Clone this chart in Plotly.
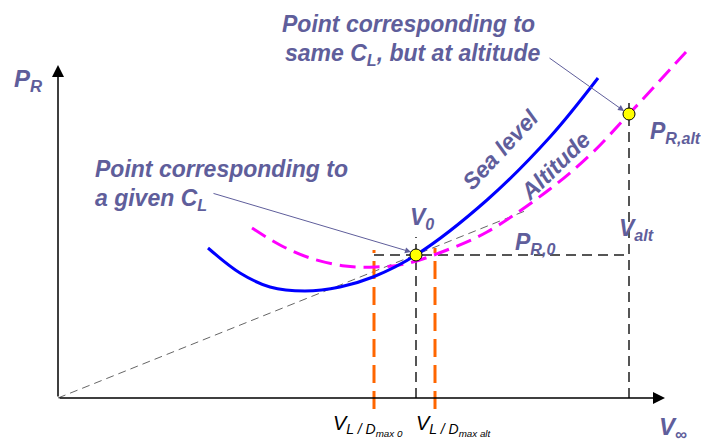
import plotly.graph_objects as go

# Power required curves (schematic), V in arbitrary units, P in arbitrary units
v_sea = [15.0, 18.2, 21.2, 24.7, 28.2, 31.5, 35.8, 42.9, 49.2, 54.0]
p_sea = [15.0, 12.5, 11.1, 10.7, 11.1, 12.1, 14.3, 19.8, 26.1, 32.0]

v_alt = [19.4, 22.2, 25.2, 28.7, 31.7, 34.7, 38.9, 42.9, 49.2, 53.2, 57.1, 62.8]
p_alt = [17.0, 15.3, 14.0, 13.2, 13.1, 13.4, 14.8, 16.6, 20.9, 24.3, 28.4, 34.6]

# marked points: given C_L at sea level, same C_L at altitude
v_pts = [35.8, 57.1]
p_pts = [14.3, 28.4]

# tangent from origin
v_tan = [0, 46.7]
p_tan = [0, 18.7]

# velocities for max L/D
v_ld0 = 31.6
v_ldalt = 37.7

v_axis_end = 60.7
p_axis_end = 33.3

TXT = "#5F5E9B"
FONT = "Liberation Sans, Arial, sans-serif"

fig = go.Figure()

# tangent line
fig.add_trace(go.Scatter(x=v_tan, y=p_tan, mode="lines",
                         line=dict(color="#666666", width=1, dash="8px,5px")))
# horizontal P_R,0 guide
fig.add_trace(go.Scatter(x=[v_ld0, v_pts[1]], y=[p_pts[0], p_pts[0]], mode="lines",
                         line=dict(color="#555555", width=2, dash="10px,6px")))
# vertical guides
fig.add_trace(go.Scatter(x=[v_pts[0], v_pts[0]], y=[0, 16.1], mode="lines",
                         line=dict(color="#555555", width=2, dash="10px,6px")))
fig.add_trace(go.Scatter(x=[v_pts[1], v_pts[1]], y=[0, 29.5], mode="lines",
                         line=dict(color="#555555", width=2, dash="10px,6px")))
# orange L/D max lines
fig.add_trace(go.Scatter(x=[v_ld0, v_ld0], y=[-1.1, 14.8], mode="lines",
                         line=dict(color="#FF6600", width=3, dash="18px,8px")))
fig.add_trace(go.Scatter(x=[v_ldalt, v_ldalt], y=[-1.1, 15.0], mode="lines",
                         line=dict(color="#FF6600", width=3, dash="18px,8px")))

# curves
fig.add_trace(go.Scatter(x=v_alt, y=p_alt, mode="lines", line_shape="spline",
                         line=dict(color="#FF00FF", width=3, dash="16px,8px")))
fig.add_trace(go.Scatter(x=v_sea, y=p_sea, mode="lines", line_shape="spline",
                         line=dict(color="#0000FF", width=3)))

fig.add_trace(go.Scatter(x=v_pts, y=p_pts, mode="markers",
                         marker=dict(color="#FFFF00", size=12, line=dict(color="black", width=1))))

ann = []
# axes with arrows
ann.append(dict(x=v_axis_end, y=0, ax=0, ay=0, axref="x", ayref="y", xref="x", yref="y",
                showarrow=True, arrowhead=2, arrowsize=1.6, arrowwidth=1.5, arrowcolor="black", text=""))
ann.append(dict(x=0, y=p_axis_end, ax=0, ay=0, axref="x", ayref="y", xref="x", yref="y",
                showarrow=True, arrowhead=2, arrowsize=1.6, arrowwidth=1.5, arrowcolor="black", text=""))
# pointer arrows
ann.append(dict(x=35.3, y=14.6, ax=15.4, ay=20.5, axref="x", ayref="y", xref="x", yref="y",
                showarrow=True, arrowhead=2, arrowsize=1.2, arrowwidth=1, arrowcolor=TXT, text=""))
ann.append(dict(x=56.6, y=28.7, ax=49.0, ay=34.1, axref="x", ayref="y", xref="x", yref="y",
                showarrow=True, arrowhead=2, arrowsize=1.2, arrowwidth=1, arrowcolor=TXT, text=""))


def label(x, y, text, size=20, color=TXT, xanchor="center", angle=0):
    ann.append(dict(x=x, y=y, xref="x", yref="y", text=text, showarrow=False,
                    xanchor=xanchor, yanchor="middle", textangle=angle,
                    font=dict(family=FONT, size=size, color=color)))


label(-3.0, 31.8, "<b><i>P<sub>R</sub></i></b>", size=24)
label(61.5, -3.0, "<b><i>V<sub>∞</sub></i></b>", size=24)
label(22.2, 37.4, "<b><i>Point corresponding to</i></b>", size=23, xanchor="left")
label(22.5, 34.4, "<b><i>same C<sub>L</sub>, but at altitude</i></b>", size=23, xanchor="left")
label(3.5, 22.9, "<b><i>Point corresponding to</i></b>", size=23, xanchor="left")
label(3.5, 19.9, "<b><i>a given C<sub>L</sub></i></b>", size=23, xanchor="left")
label(44.2, 24.8, "<b><i>Sea level</i></b>", size=23, angle=-47)
label(49.7, 23.2, "<b><i>Altitude</i></b>", size=23, angle=-44)
label(36.4, 18.0, "<b><i>V<sub>0</sub></i></b>", size=23)
label(47.7, 15.5, "<b><i>P<sub>R,0</sub></i></b>", size=23)
label(61.7, 26.6, "<b><i>P<sub>R,alt</sub></i></b>", size=23)
label(57.8, 16.9, "<b><i>V<sub>alt</sub></i></b>", size=23)
label(31.0, -2.7, "<i>V<sub>L / D<sub>max 0</sub></sub></i>", size=20, color="black")
label(39.6, -2.7, "<i>V<sub>L / D<sub>max alt</sub></sub></i>", size=20, color="black")

fig.update_layout(
    width=701, height=443,
    margin=dict(l=0, r=0, t=0, b=0),
    paper_bgcolor="white", plot_bgcolor="white",
    showlegend=False,
    annotations=ann,
    xaxis=dict(range=[-5.8, 64.3], visible=False, fixedrange=True),
    yaxis=dict(range=[-4.5, 39.8], visible=False, fixedrange=True),
)

fig.write_html("out.html", config={"displayModeBar": False},
               post_script="document.body.style.margin='0';")
